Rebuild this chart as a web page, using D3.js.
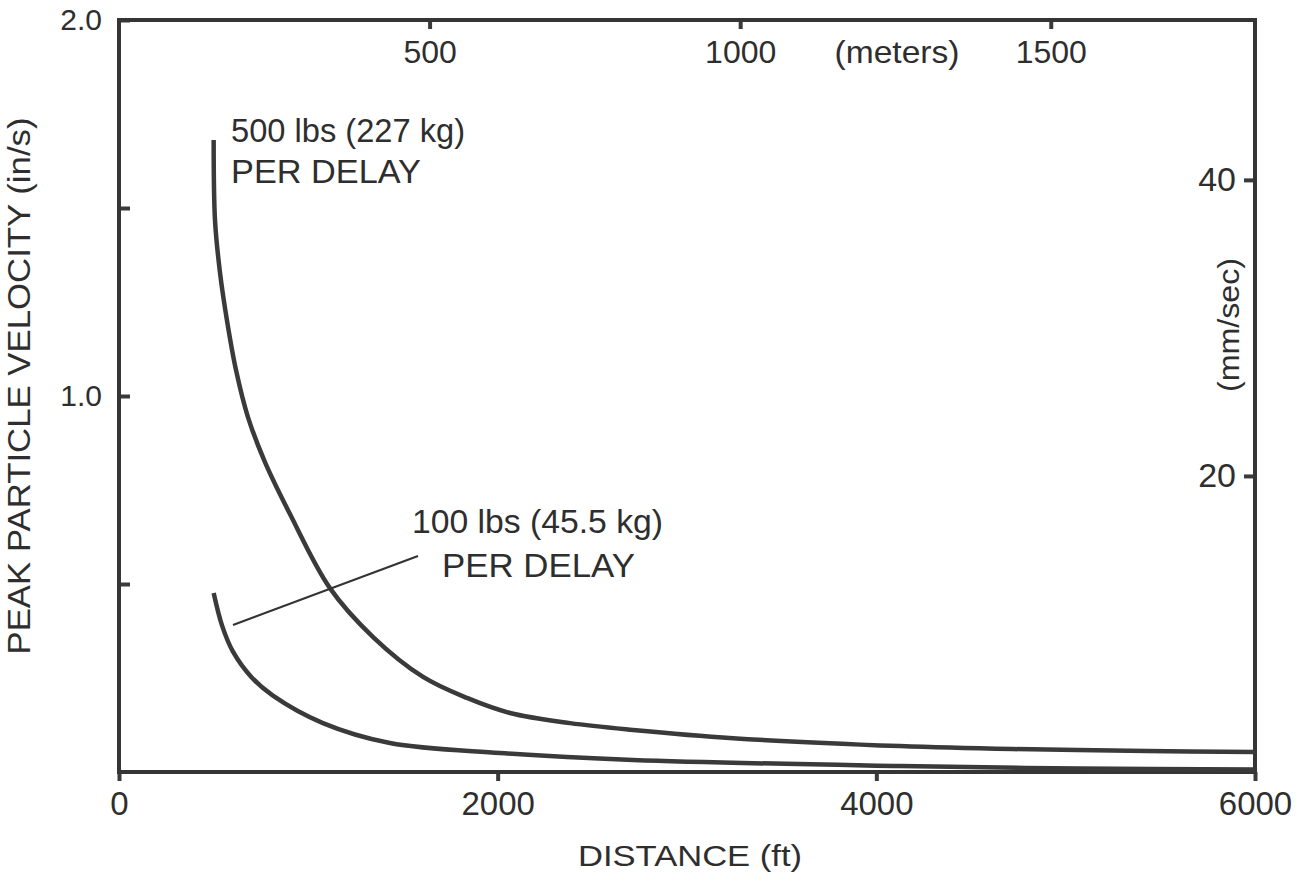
<!DOCTYPE html>
<html>
<head>
<meta charset="utf-8">
<script src="https://cdn.jsdelivr.net/npm/d3@7"></script>
<style>
  body { margin: 0; background: #fff; }
  svg { display: block; font-family: "Liberation Sans", Arial, sans-serif; }
  .axis text { fill: #2e2e2e; }
  .axis line { stroke: #3a3a3a; stroke-width: 4; }
  .axis path { display: none; }
</style>
</head>
<body>
<div id="chart"></div>
<script>
// distance in ft, peak particle velocity in in/s
var dist500 = [500, 507, 533, 570, 618, 681, 771, 903, 1114, 1342, 1606, 1838, 2065, 2382, 2715, 3243, 4125, 4722, 5430, 6000];
var ppv500  = [1.681, 1.468, 1.330, 1.202, 1.069, 0.944, 0.824, 0.686, 0.489, 0.359, 0.253, 0.197, 0.157, 0.130, 0.112, 0.090, 0.069, 0.061, 0.056, 0.053];
var dist100 = [500, 544, 602, 700, 813, 1077, 1431, 2012, 2715, 4125, 5076, 6000];
var ppv100  = [0.476, 0.390, 0.320, 0.252, 0.203, 0.130, 0.077, 0.0505, 0.032, 0.016, 0.0093, 0.0066];

var ftTicks = [0, 2000, 4000, 6000];
var inTicks = [0.5, 1.0, 1.5, 2.0];
var mTicks = [500, 1000, 1500];
var mmTicks = [20, 40];

var width = 1298, height = 876;
var frame = { left: 119, right: 1255, top: 20, bottom: 772 };

var svg = d3.select("#chart").append("svg")
  .attr("width", width).attr("height", height);

var x = d3.scaleLinear().domain([0, 6000]).range([frame.left, frame.right]);
var y = d3.scaleLinear().domain([0, 2]).range([frame.bottom, frame.top]);
var xm = d3.scaleLinear().domain([0, 6000 * 0.3048]).range([frame.left, frame.right]);
var ymm = d3.scaleLinear().domain([0, 2 * 25.4]).range([frame.bottom, frame.top]);

// bottom axis (ft)
svg.append("g").attr("class", "axis")
  .attr("transform", "translate(0," + frame.bottom + ")")
  .call(d3.axisBottom(x).tickValues(ftTicks).tickSize(9).tickPadding(11).tickFormat(d3.format("d")))
  .selectAll("text").style("font-size", "33px");

// left axis (in/s), ticks point inward
svg.append("g").attr("class", "axis")
  .attr("transform", "translate(" + frame.left + ",0)")
  .call(d3.axisLeft(y).tickValues(inTicks).tickSize(-11).tickPadding(17)
    .tickFormat(function(d) { return d % 1 === 0 ? d.toFixed(1) : ""; }))
  .selectAll("text").style("font-size", "30px");

// top axis (meters), ticks point inward
svg.append("g").attr("class", "axis")
  .attr("transform", "translate(0," + frame.top + ")")
  .call(d3.axisBottom(xm).tickValues(mTicks).tickSize(9).tickPadding(11).tickFormat(d3.format("d")))
  .selectAll("text").style("font-size", "32px");

// right axis (mm/sec), ticks and labels inside
svg.append("g").attr("class", "axis")
  .attr("transform", "translate(" + frame.right + ",0)")
  .call(d3.axisLeft(ymm).tickValues(mmTicks).tickSize(11).tickPadding(8).tickFormat(d3.format("d")))
  .selectAll("text").style("font-size", "34px");

// frame
svg.append("rect")
  .attr("x", frame.left).attr("y", frame.top)
  .attr("width", frame.right - frame.left).attr("height", frame.bottom - frame.top)
  .attr("fill", "none").attr("stroke", "#353535").attr("stroke-width", 4);

// curves
var line = d3.line()
  .x(function(d) { return x(d[0]); })
  .y(function(d) { return y(d[1]); })
  .curve(d3.curveCatmullRom.alpha(0.5));

svg.append("path")
  .datum(d3.zip(dist500, ppv500))
  .attr("d", line)
  .attr("fill", "none").attr("stroke", "#3a3a3a").attr("stroke-width", 4.5);

svg.append("path")
  .datum(d3.zip(dist100, ppv100))
  .attr("d", line)
  .attr("fill", "none").attr("stroke", "#3a3a3a").attr("stroke-width", 4.5);

// leader line for 100 lbs label
svg.append("line")
  .attr("x1", 233).attr("y1", 625).attr("x2", 418).attr("y2", 556)
  .attr("stroke", "#333").attr("stroke-width", 2.2);

// labels
var txt = "#2e2e2e";
function label(str, tx, ty, size, len, anchor) {
  var t = svg.append("text")
    .attr("x", tx).attr("y", ty)
    .attr("fill", txt)
    .style("font-size", size + "px")
    .attr("text-anchor", anchor || "start")
    .text(str);
  if (len) t.attr("textLength", len).attr("lengthAdjust", "spacingAndGlyphs");
  return t;
}

label("500 lbs (227 kg)", 231, 142, 33, 234);
label("PER DELAY", 231, 183, 33, 190);
label("100 lbs (45.5 kg)", 412, 533, 33, 251);
label("PER DELAY", 442, 577, 33, 193);

label("(meters)", 897, 63, 32, 125, "middle");
label("DISTANCE (ft)", 690, 866, 30, 224, "middle");

svg.append("text")
  .attr("transform", "translate(30,386) rotate(-90)")
  .attr("text-anchor", "middle")
  .attr("fill", txt)
  .style("font-size", "32px")
  .attr("textLength", 537).attr("lengthAdjust", "spacingAndGlyphs")
  .text("PEAK PARTICLE VELOCITY (in/s)");

svg.append("text")
  .attr("transform", "translate(1239,325) rotate(-90)")
  .attr("text-anchor", "middle")
  .attr("fill", txt)
  .style("font-size", "30px")
  .attr("textLength", 134).attr("lengthAdjust", "spacingAndGlyphs")
  .text("(mm/sec)");
</script>
</body>
</html>
